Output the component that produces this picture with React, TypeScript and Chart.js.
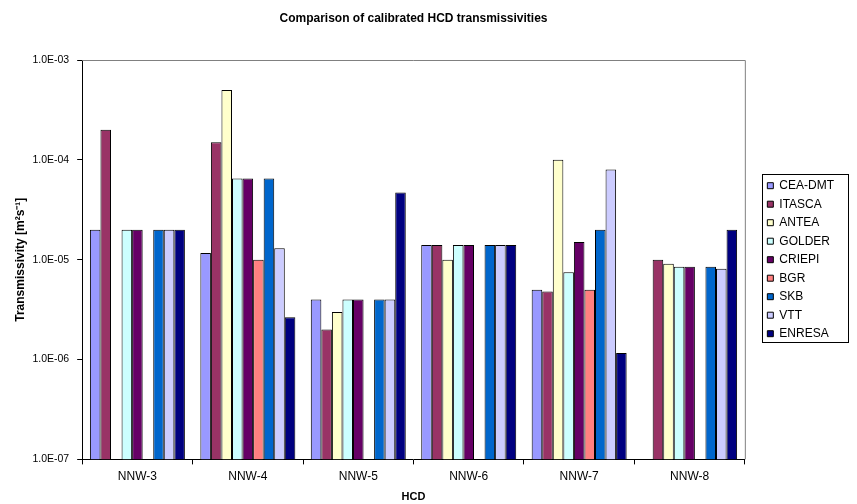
import React, { useEffect, useRef } from "react";
import { Chart, registerables } from "chart.js";

Chart.register(...registerables);

const categories = ["NNW-3", "NNW-4", "NNW-5", "NNW-6", "NNW-7", "NNW-8"];
const seriesNames = ["CEA-DMT", "ITASCA", "ANTEA", "GOLDER", "CRIEPI", "BGR", "SKB", "VTT", "ENRESA"];
const seriesColors = ["#9999FF", "#993366", "#FFFFCC", "#CCFFFF", "#660066", "#FF8080", "#0066CC", "#CCCCFF", "#000080"];

const ceaDmt = [2e-5, 1.17e-5, 4e-6, 1.4e-5, 5e-6, null];
const itasca = [2e-4, 1.5e-4, 2e-6, 1.4e-5, 4.8e-6, 1e-5];
const antea = [null, 5e-4, 3e-6, 1e-5, 1e-4, 9.1e-6];
const golder = [2e-5, 6.5e-5, 4e-6, 1.4e-5, 7.5e-6, 8.5e-6];
const criepi = [2e-5, 6.5e-5, 4e-6, 1.4e-5, 1.5e-5, 8.5e-6];
const bgr = [null, 1e-5, null, null, 5e-6, null];
const skb = [2e-5, 6.5e-5, 4e-6, 1.4e-5, 2e-5, 8.5e-6];
const vtt = [2e-5, 1.3e-5, 4e-6, 1.4e-5, 8e-5, 8.1e-6];
const enresa = [2e-5, 2.65e-6, 4.7e-5, 1.4e-5, 1.16e-6, 2e-5];

const seriesValues = [ceaDmt, itasca, antea, golder, criepi, bgr, skb, vtt, enresa];
const yTicks = [1e-7, 1e-6, 1e-5, 1e-4, 1e-3];

const chartTitle = "Comparison of calibrated HCD transmissivities";
const FONT = "'Liberation Sans', Arial, sans-serif";

function fmtExp(v: number): string {
  const e = Math.round(Math.log10(v));
  const sign = e < 0 ? "-" : "+";
  const abs = Math.abs(e);
  return "1.0E" + sign + (abs < 10 ? "0" + abs : String(abs));
}

const framePlugin = {
  id: "frame",
  afterLayout(chart: any) {
    const lg = chart.legend;
    const ca = chart.chartArea;
    if (!lg) return;
    const w = lg.width;
    lg.left = ca.right + 16;
    lg.right = lg.left + w;
    lg.top = ca.top;
    lg.bottom = ca.bottom;
    lg.height = ca.bottom - ca.top;
  },
  beforeDatasetsDraw(chart: any) {
    const { ctx, chartArea } = chart;
    ctx.save();
    ctx.strokeStyle = "#808080";
    ctx.lineWidth = 1;
    ctx.beginPath();
    ctx.moveTo(chartArea.left, chartArea.top + 0.5);
    ctx.lineTo(chartArea.right + 0.5, chartArea.top + 0.5);
    ctx.lineTo(chartArea.right + 0.5, chartArea.bottom);
    ctx.stroke();
    ctx.restore();
  },
  afterDraw(chart: any) {
    const { ctx, chartArea } = chart;
    ctx.save();
    ctx.fillStyle = "#000";
    ctx.font = "bold 12px " + FONT;
    ctx.textAlign = "center";
    ctx.textBaseline = "middle";
    ctx.fillText(chartTitle, (chartArea.left + chartArea.right) / 2, 19);
    const lg = chart.legend;
    if (lg && lg.legendHitBoxes && lg.legendHitBoxes.length) {
      const boxes = lg.legendHitBoxes;
      let t = Infinity, b = -Infinity;
      boxes.forEach((h: any) => {
        t = Math.min(t, h.top);
        b = Math.max(b, h.top + h.height);
      });
      const left = Math.round(chartArea.right + 17);
      ctx.strokeStyle = "#000";
      ctx.lineWidth = 1;
      ctx.strokeRect(left + 0.5, Math.round(t - 6) + 0.5, 86, Math.round(b - t + 8));
    }
    ctx.restore();
  },
};

export default function App() {
  const ref = useRef<HTMLCanvasElement>(null);
  useEffect(() => {
    if (!ref.current) return;
    const chart = new Chart(ref.current, {
      type: "bar",
      data: {
        labels: categories,
        datasets: seriesNames.map((name, i) => ({
          label: name,
          data: seriesValues[i],
          backgroundColor: seriesColors[i],
          borderColor: "#000000",
          borderWidth: 1,
          categoryPercentage: 0.86,
          barPercentage: 1,
        })),
      },
      options: {
        responsive: false,
        animation: false,
        devicePixelRatio: 1,
        layout: { padding: { top: 60, right: 29, left: 4, bottom: 0 } },
        plugins: {
          title: { display: false },
          tooltip: { enabled: false },
          legend: {
            position: "right",
            labels: {
              boxWidth: 6,
              boxHeight: 6,
              padding: 6.5,
              color: "#000",
              font: { family: FONT, size: 12 },
            },
          },
        },
        scales: {
          x: {
            grid: { display: true, drawOnChartArea: false, offset: true, tickLength: 5, color: "#000" },
            border: { color: "#000", width: 1 },
            ticks: { color: "#000", font: { family: FONT, size: 12 }, padding: 5 },
            title: { display: true, text: "HCD", color: "#000", font: { family: FONT, size: 11, weight: "bold" }, padding: { top: 2, bottom: 0 } },
          },
          y: {
            type: "logarithmic",
            min: 1e-7,
            max: 1e-3,
            afterBuildTicks(scale: any) {
              scale.ticks = yTicks.map((v) => ({ value: v }));
            },
            grid: { display: true, drawOnChartArea: false, tickLength: 5, color: "#000" },
            border: { color: "#000", width: 1 },
            ticks: { color: "#000", font: { family: FONT, size: 10.5 }, padding: 8, callback: (v: any) => fmtExp(Number(v)) },
            title: { display: true, text: "Transmissivity [m²s⁻¹]", color: "#000", font: { family: FONT, size: 12, weight: "bold" }, padding: { top: 9, bottom: -3 } },
          },
        },
      },
      plugins: [framePlugin],
    });
    return () => chart.destroy();
  }, []);
  return (
    <div style={{ position: "fixed", left: 0, top: 0, width: 857, height: 504, background: "#fff" }}>
      <canvas ref={ref} width={857} height={504} style={{ width: 857, height: 504, display: "block" }} />
    </div>
  );
}
